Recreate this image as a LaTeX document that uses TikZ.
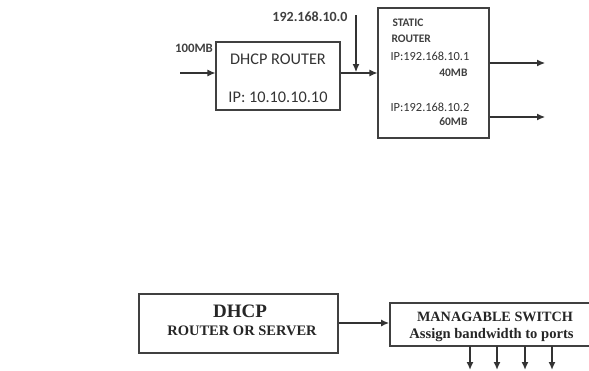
\documentclass[tikz,border=0pt]{standalone}
\usepackage{fontspec}
\setmainfont{Carlito}
\newfontfamily\timesfont{Liberation Serif}
\usepackage{tikz}
\usetikzlibrary{arrows.meta,calc}
\tikzset{
    blk/.style={draw=black!75, line width=1.1pt, inner sep=0pt},
    arr/.style={line width=1.1pt, draw=black!80, -{Latex[length=8pt,width=7pt]}}
}

\begin{document}
\begin{tikzpicture}[x=1pt, y=-1pt]
    \useasboundingbox (0,0) rectangle (589,370);
    \clip (0,0) rectangle (589,370);
    % top part
    \node[blk, minimum width=124pt, minimum height=68pt] (dhcp) at (278,76) {};
    \node[blk, minimum width=111pt, minimum height=130pt] (static) at (433.5,73) {};
    \node[font=\fontsize{16.3}{16}\selectfont, black!80] (dhcpname) at (278,59) {DHCP ROUTER};
    \node[font=\fontsize{16.3}{16}\selectfont, black!80] (dhcpip) at (278,97) {IP: 10.10.10.10};
    \node[font=\fontsize{12.8}{12}\selectfont\bfseries, black!75] (inrate) at (194,48) {100MB};
    \node[font=\fontsize{14}{12}\selectfont\bfseries, black!75] (gwaddr) at (310,17) {192.168.10.0};
    \node[font=\fontsize{11.5}{11}\selectfont\bfseries, black!75, anchor=west] (st1) at (389,23) {STATIC};
    \node[font=\fontsize{11.5}{11}\selectfont\bfseries, black!75, anchor=west] (st2) at (388,39) {ROUTER};
    \node[font=\fontsize{12.4}{11}\selectfont, black!80, anchor=west] (ip1) at (387,56) {IP:192.168.10.1};
    \node[font=\fontsize{11.5}{11}\selectfont\bfseries, black!75, anchor=east] (bw1) at (471,73) {40MB};
    \node[font=\fontsize{12.4}{11}\selectfont, black!80, anchor=west] (ip2) at (387,107) {IP:192.168.10.2};
    \node[font=\fontsize{11.5}{11}\selectfont\bfseries, black!75, anchor=east] (bw2) at (471,122) {60MB};
    \coordinate (inA) at (180,73);
    \coordinate (gw) at (356,15);
    \coordinate (outA) at (545,63);
    \coordinate (outB) at (545,117);
    \draw[arr] (inA) -- (inA -| dhcp.west);
    \draw[arr] (inA -| dhcp.east) -- (inA -| static.west);
    \draw[arr] (gw) -- ($(gw |- inA)+(0,-1)$);
    \draw[arr] (outA -| static.east) -- (outA);
    \draw[arr] (outB -| static.east) -- (outB);
    % bottom part
    \node[blk, line width=1.6pt, minimum width=199pt, minimum height=59pt] (server) at (238.5,323.5) {};
    \node[blk, line width=1.6pt, minimum width=210pt, minimum height=43pt] (switch) at (495,324.5) {};
    \node[font=\timesfont\fontsize{19}{19}\selectfont\bfseries, black!85] (srvname) at (240,311) {DHCP};
    \node[font=\timesfont\fontsize{14.5}{14}\selectfont\bfseries, black!85] (srvsub) at (242,331) {ROUTER OR SERVER};
    \node[font=\timesfont\fontsize{14.2}{14}\selectfont\bfseries, black!85] (swname) at (495,317) {MANAGABLE SWITCH};
    \node[font=\timesfont\fontsize{14.6}{14}\selectfont\bfseries, black!85] (swsub) at (491.5,335) {Assign bandwidth to ports};
    \draw[arr, line width=1.6pt] (server.east |- 0,323) -- (switch.west |- 0,323);
    \foreach \px in {470,497,525,552}
        \draw[arr, line width=1.6pt] (\px,346) -- (\px,370);
\end{tikzpicture}
\end{document}
